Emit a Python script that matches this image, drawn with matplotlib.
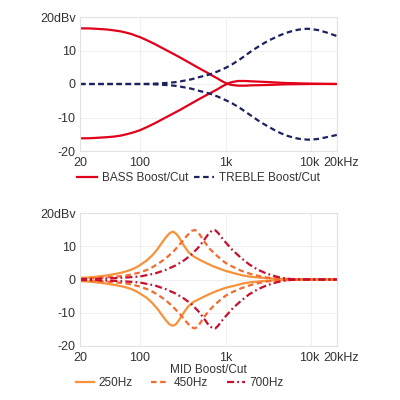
import matplotlib
matplotlib.use("Agg")
import matplotlib.pyplot as plt
import matplotlib.transforms as mtransforms
from matplotlib.ticker import FixedLocator, NullLocator

plt.rcParams['font.family'] = ['Liberation Sans', 'DejaVu Sans']

# ---- data ----
bass_f = [20, 25, 30, 40, 50, 60, 70, 80, 90, 100, 120, 150, 200, 250, 300, 400, 500, 600, 700, 800, 900,
          1000, 1100, 1200, 1400, 1700, 2000, 3000, 5000, 10000, 20000]
bass_boost = [16.6, 16.6, 16.5, 16.3, 16.0, 15.7, 15.3, 14.9, 14.4, 14.0, 13.1, 11.9, 10.2, 8.9, 7.8, 6.0, 4.6, 3.5, 2.5, 1.7, 0.9,
              0.3, -0.1, -0.3, -0.5, -0.5, -0.4, -0.3, -0.1, 0.0, 0.0]
bass_cut = [-16.2, -16.2, -16.1, -15.9, -15.7, -15.4, -15.0, -14.6, -14.2, -13.8, -12.9, -11.7, -10.0, -8.7, -7.6, -5.8, -4.4, -3.3, -2.4, -1.6, -0.8,
            -0.2, 0.3, 0.6, 0.9, 0.9, 0.8, 0.6, 0.3, 0.1, 0.0]

treble_f = [20, 100, 150, 200, 250, 300, 400, 500, 600, 700, 800, 1000, 1200, 1500, 2000, 2500, 3000, 4000, 5000,
            6000, 7000, 8000, 9000, 10000, 12000, 15000, 20000]
treble_boost = [0, 0, 0.1, 0.3, 0.5, 0.8, 1.4, 2.1, 2.6, 3.1, 3.7, 4.8, 5.9, 7.5, 9.8, 11.4, 12.6, 14.2, 15.2,
                15.8, 16.2, 16.4, 16.5, 16.4, 16.1, 15.4, 14.3]
treble_cut = [0, 0, -0.1, -0.3, -0.5, -0.8, -1.4, -2.1, -2.6, -3.1, -3.7, -4.8, -5.8, -7.3, -9.5, -11.2, -12.4, -14.2, -15.3,
              -15.9, -16.3, -16.5, -16.6, -16.6, -16.4, -15.9, -15.2]

mid250_f = [20, 25, 30, 40, 50, 60, 70, 80, 90, 100, 120, 140, 160, 180, 200, 220, 240, 260, 280, 300, 330, 370, 420,
            500, 600, 700, 800, 1000, 1300, 1600, 2000, 3000, 4000, 6000, 10000, 20000]
mid250_boost = [0.5, 0.6, 0.8, 1.2, 1.6, 2.0, 2.5, 3.0, 3.6, 4.3, 5.7, 7.3, 9.1, 11.0, 12.6, 13.8, 14.4, 14.0, 13.0, 11.8, 10.0, 8.2, 7.0,
                5.9, 4.9, 4.1, 3.5, 2.6, 1.8, 1.2, 0.8, 0.4, 0.2, 0.1, 0, 0]
mid250_cut = [-0.5, -0.6, -0.8, -1.2, -1.6, -2.0, -2.4, -2.9, -3.5, -4.2, -5.5, -7.1, -8.8, -10.6, -12.2, -13.4, -13.9, -13.6, -12.6, -11.4, -9.7, -8.0, -6.8,
              -5.8, -4.8, -4.0, -3.4, -2.5, -1.8, -1.2, -0.8, -0.4, -0.2, -0.1, 0, 0]

mid450_f = [20, 30, 50, 70, 100, 130, 160, 200, 250, 300, 350, 400, 440, 480, 520, 580, 650, 750, 900,
            1000, 1200, 1500, 2000, 2500, 3000, 4000, 6000, 10000, 20000]
mid450_boost = [0.2, 0.4, 0.8, 1.2, 2.1, 3.2, 4.6, 6.3, 8.6, 10.9, 13.0, 14.6, 14.9, 14.2, 12.8, 11.0, 9.3, 7.7, 5.9,
                5.0, 3.9, 2.7, 1.6, 1.0, 0.6, 0.3, 0.1, 0, 0]
mid450_cut = [-0.2, -0.4, -0.8, -1.2, -2.1, -3.2, -4.5, -6.2, -8.5, -10.7, -12.8, -14.4, -14.7, -14.0, -12.6, -10.8, -9.2, -7.6, -5.8,
              -4.9, -3.8, -2.7, -1.6, -1.0, -0.6, -0.3, -0.1, 0, 0]

mid700_f = [20, 30, 50, 70, 100, 150, 200, 260, 330, 400, 480, 560, 630, 700, 760, 820, 900, 1000, 1200, 1500,
            1900, 2400, 3000, 4000, 5000, 6000, 10000, 20000]
mid700_boost = [0.1, 0.2, 0.4, 0.6, 0.9, 1.8, 2.9, 4.2, 5.8, 7.5, 9.6, 11.8, 13.7, 14.8, 14.8, 14.0, 12.6, 11.2, 8.9, 6.6,
                4.5, 2.9, 1.8, 0.8, 0.3, 0.1, 0, 0]
mid700_cut = [-0.1, -0.2, -0.4, -0.6, -0.9, -1.8, -2.9, -4.2, -5.8, -7.4, -9.5, -11.7, -13.6, -14.6, -14.7, -13.9, -12.5, -11.1, -8.8, -6.5,
              -4.4, -2.9, -1.8, -0.8, -0.3, -0.1, 0, 0]

x_ticks = [20, 100, 1000, 10000, 20000]
x_labels = ['20', '100', '1k', '10k', '20kHz']
y_ticks = [-20, -10, 0, 10, 20]
y_labels = ['-20', '-10', '0', '10', '20dBv']

# ---- style ----
c_bass = '#e2001a'
c_treble = '#1c2260'
c_250 = '#f7923a'
c_450 = '#f26b2f'
c_700 = '#c8102e'
txt = '#333333'
lw = 1.6
tick_fs = 9
leg_fs = 8.5
dash = (2.5, 1.6)
dashdot = (3.2, 1.4, 0.8, 1.4)

fig = plt.figure(figsize=(4, 4), dpi=100)
ax1 = fig.add_axes([0.2, 0.6225, 0.6425, 0.335])
ax2 = fig.add_axes([0.2, 0.135, 0.6425, 0.3325])


def style(ax):
    ax.set_xscale('log')
    ax.set_xlim(20, 20000)
    ax.set_ylim(-20, 20)
    ax.xaxis.set_major_locator(FixedLocator(x_ticks))
    ax.xaxis.set_minor_locator(NullLocator())
    ax.set_xticklabels(x_labels)
    ax.set_yticks(y_ticks)
    ax.set_yticklabels(y_labels)
    ax.tick_params(length=0, labelsize=tick_fs, labelcolor=txt, pad=3)
    ax.tick_params(axis='x', pad=4)
    for s in ax.spines.values():
        s.set_color('#e2e2e2')
        s.set_linewidth(0.8)
    ax.grid(True, color='#f0f0f0', linewidth=0.8)
    ax.set_axisbelow(True)
    labels = ax.get_xticklabels()
    off_r = mtransforms.ScaledTranslation(4 / 100, 0, fig.dpi_scale_trans)
    off_l = mtransforms.ScaledTranslation(-2 / 100, 0, fig.dpi_scale_trans)
    labels[-1].set_transform(labels[-1].get_transform() + off_r)
    labels[-2].set_transform(labels[-2].get_transform() + off_l)


style(ax1)
style(ax2)

ax1.plot(bass_f, bass_boost, color=c_bass, lw=lw, label='BASS Boost/Cut')
ax1.plot(bass_f, bass_cut, color=c_bass, lw=lw)
ax1.plot(treble_f, treble_boost, color=c_treble, lw=lw, dashes=dash, label='TREBLE Boost/Cut')
ax1.plot(treble_f, treble_cut, color=c_treble, lw=lw, dashes=dash)

ax2.plot(mid250_f, mid250_boost, color=c_250, lw=lw, label='250Hz')
ax2.plot(mid250_f, mid250_cut, color=c_250, lw=lw)
ax2.plot(mid450_f, mid450_boost, color=c_450, lw=lw, dashes=dash, label='450Hz')
ax2.plot(mid450_f, mid450_cut, color=c_450, lw=lw, dashes=dash)
ax2.plot(mid700_f, mid700_boost, color=c_700, lw=lw, dashes=dashdot, label='700Hz')
ax2.plot(mid700_f, mid700_cut, color=c_700, lw=lw, dashes=dashdot)

leg1 = ax1.legend(loc='center left', bbox_to_anchor=(-0.03, -0.2), frameon=False,
                  ncol=2, fontsize=leg_fs, handlelength=1.7, handletextpad=0.4,
                  columnspacing=0.5, borderaxespad=0)
for t in leg1.get_texts():
    t.set_color(txt)

ax2.set_xlabel('MID Boost/Cut', fontsize=leg_fs, color=txt, labelpad=0)
leg2 = ax2.legend(loc='center left', bbox_to_anchor=(-0.035, -0.28), frameon=False,
                  ncol=3, fontsize=leg_fs, handlelength=1.55, handletextpad=0.35,
                  columnspacing=1.6, borderaxespad=0)
for t in leg2.get_texts():
    t.set_color(txt)

fig.savefig('out.png', dpi=100)
